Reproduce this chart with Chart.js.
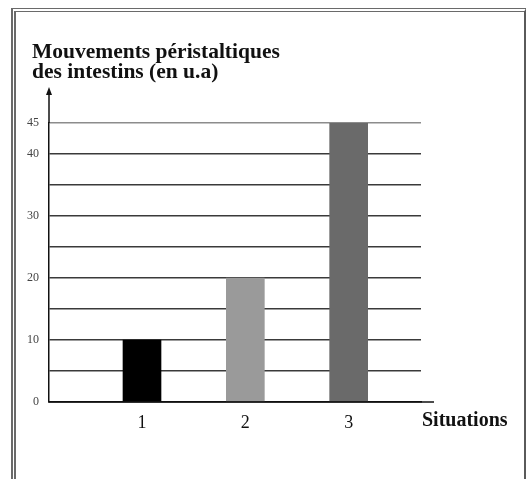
<!DOCTYPE html>
<html>
<head>
<meta charset="utf-8">
<script src="https://cdn.jsdelivr.net/npm/chart.js@4"></script>
<style>
  body { margin: 0; background: #fff; }
  #frame {
    position: absolute; left: 11px; top: 8px; width: 515px; height: 520px;
    box-sizing: border-box;
    border-left: 5px double #6a6a6a;
    border-top: 4px double #6a6a6a;
    border-right: 2px solid #5a5a5a;
  }
  #chart { position: absolute; left: 0; top: 0; }
</style>
</head>
<body>
<div id="frame"></div>
<canvas id="chart" width="528" height="479"></canvas>
<script>
const situations = [1, 2, 3];
const mouvements = [10, 20, 45];
const barColors = ['#000000', '#9a9a9a', '#6a6a6a'];
const yTickLabels = [0, 10, 20, 30, 40, 45];
const titleLines = ['Mouvements péristaltiques', 'des intestins (en u.a)'];
const xTitle = 'Situations';

const serif = '"Liberation Serif", "Times New Roman", serif';

const annotations = {
    id: 'annotations',
    afterDraw(chart) {
        const ctx = chart.ctx;
        const area = chart.chartArea;
        const y0 = chart.scales.y.getPixelForValue(0);
        ctx.save();
        ctx.strokeStyle = '#111';
        ctx.fillStyle = '#111';
        ctx.lineWidth = 1.5;
        // y axis with arrow
        ctx.beginPath();
        ctx.moveTo(area.left, area.top);
        ctx.lineTo(area.left, area.top - 33);
        ctx.stroke();
        ctx.beginPath();
        ctx.moveTo(area.left, area.top - 36);
        ctx.lineTo(area.left - 3, area.top - 28);
        ctx.lineTo(area.left + 3, area.top - 28);
        ctx.closePath();
        ctx.fill();
        // baseline extension
        ctx.beginPath();
        ctx.moveTo(area.left, y0);
        ctx.lineTo(area.right + 13, y0);
        ctx.stroke();
        // texts
        ctx.fillStyle = '#111';
        ctx.textAlign = 'left';
        ctx.textBaseline = 'alphabetic';
        ctx.font = 'bold 21.5px ' + serif;
        ctx.fillText(titleLines[0], 32, area.top - 65);
        ctx.fillText(titleLines[1], 32, area.top - 45);
        ctx.font = 'bold 20px ' + serif;
        ctx.fillText(xTitle, area.right + 1, y0 + 24);
        ctx.restore();
    }
};

new Chart(document.getElementById('chart'), {
    type: 'bar',
    data: {
        datasets: [{
            data: situations.map((s, i) => ({ x: s, y: mouvements[i] })),
            backgroundColor: barColors,
            borderWidth: 0,
            barThickness: 38
        }]
    },
    options: {
        responsive: false,
        animation: false,
        layout: { padding: { left: 0, right: 107, top: 123, bottom: 0 } },
        plugins: {
            legend: { display: false },
            tooltip: { enabled: false }
        },
        scales: {
            x: {
                type: 'linear',
                min: 0.1,
                max: 3.7,
                offset: false,
                afterBuildTicks: (scale) => { scale.ticks = situations.map(v => ({ value: v })); },
                afterFit: (scale) => { scale.height = 77; },
                grid: { display: false, drawTicks: false },
                border: { display: true, color: '#111', width: 1.5 },
                ticks: {
                    padding: 10,
                    color: '#111',
                    font: { family: serif, size: 18 },
                    callback: (v) => String(v)
                }
            },
            y: {
                min: 0,
                max: 45,
                afterBuildTicks: (scale) => {
                    const t = [];
                    for (let v = 0; v <= 45; v += 5) t.push({ value: v });
                    scale.ticks = t;
                },
                afterFit: (scale) => { scale.width = 49; },
                grid: {
                    drawTicks: false,
                    lineWidth: 1.5,
                    color: (c) => c.tick && c.tick.value === 45 ? '#8c8c8c' : (c.tick && c.tick.value === 0 ? 'rgba(0,0,0,0)' : '#3a3a3a')
                },
                border: { display: true, color: '#111', width: 1.5 },
                ticks: {
                    padding: 10,
                    color: '#444',
                    font: { family: serif, size: 12 },
                    callback: (v) => yTickLabels.includes(v) ? String(v) : ''
                }
            }
        }
    },
    plugins: [annotations]
});
</script>
</body>
</html>
